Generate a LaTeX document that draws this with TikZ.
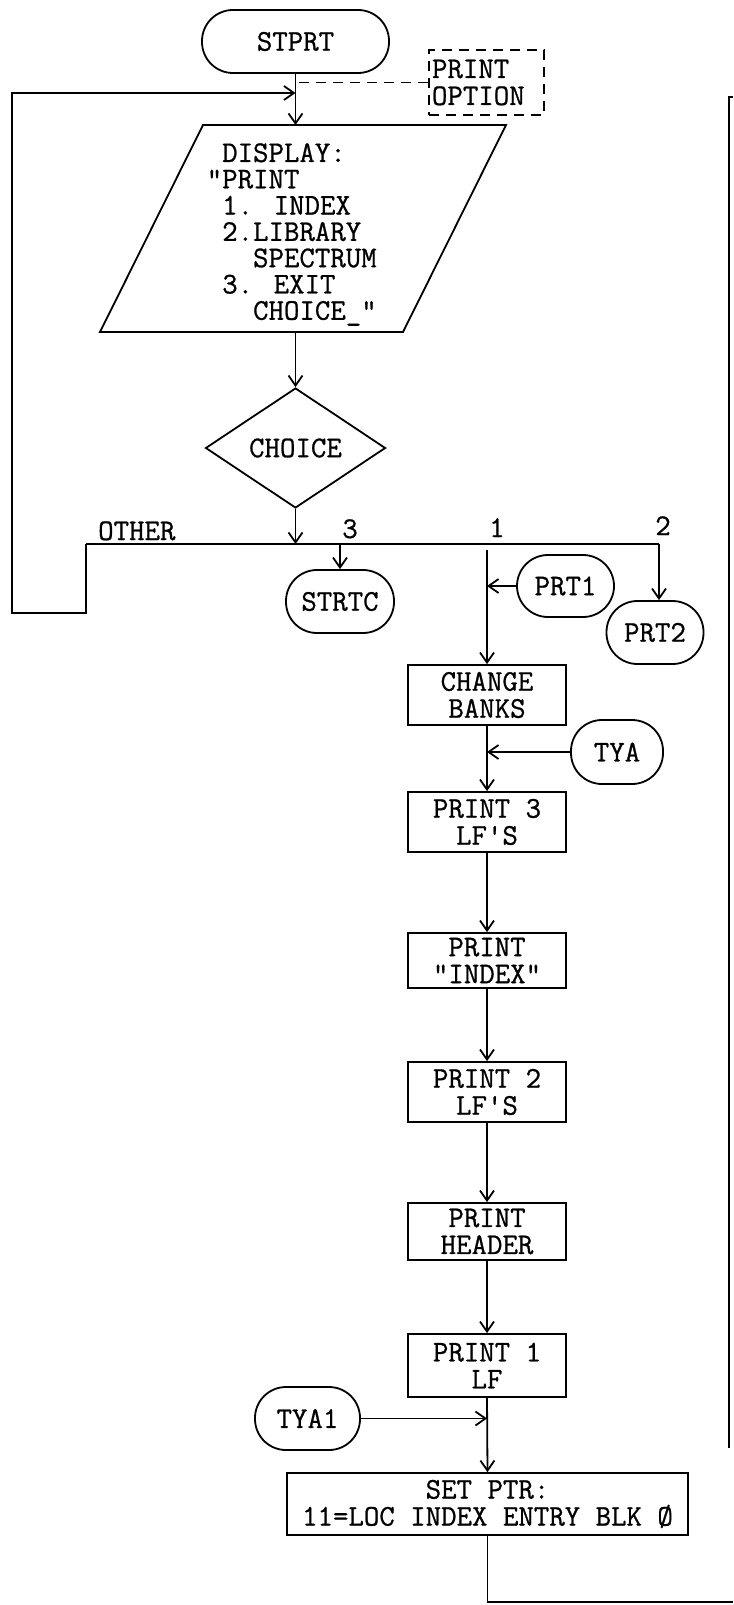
\documentclass[tikz,border=0pt]{standalone}
\usepackage{fontspec}
\newfontfamily\twfont[FakeBold=0.8]{Latin Modern Mono}
\usetikzlibrary{arrows.meta,shapes.geometric}
\tikzset{
  txt/.style={font=\twfont\fontsize{30}{27}\selectfont},
  line/.style={line width=1.8pt},
  box/.style={txt, line, draw, rectangle, minimum width=158pt, inner sep=0pt, align=center},
  term/.style={txt, line, draw, rectangle, rounded corners=31pt, inner sep=0pt, minimum height=63pt},
  flow/.style={line, -{Straight Barb[length=10pt,width=14pt,line width=1.8pt]}},
  dashy/.style={line, dash pattern=on 10pt off 7pt},
  lbl/.style={txt, inner sep=0pt, anchor=base}
}
\begin{document}
\begin{tikzpicture}[x=1pt,y=-1pt]
\useasboundingbox (0,0) rectangle (733,1605);

% top terminal and print option
\node[term, minimum width=187pt] (stprt) at (295.5,41.5) {STPRT};
\node[txt, draw, dashy, text width=109pt, align=left, minimum height=65pt, inner sep=3pt] (popt) at (486.5,82.5) {PRINT\\OPTION};
\draw[dashy] (popt.west) -- (popt.west -| stprt.south);

% display parallelogram
\draw[line] (203,125) -- (506,125) -- (403,332) -- (100,332) -- cycle;
\coordinate (dispTop) at (295.5,125);
\coordinate (dispBot) at (295.5,332);
\node[txt, align=left, anchor=north west, inner sep=0pt, font=\twfont\fontsize{30}{26.3}\selectfont] (disp) at (222,143)
  {DISPLAY:\\\llap{“}PRINT\\1. INDEX\\2.LIBRARY\\\phantom{XX}SPECTRUM\\3. EXIT\\\phantom{XX}CHOICE\_”};
\draw[flow] (stprt.south) -- (dispTop);

% decision
\node[txt, line, draw, diamond, minimum width=180pt, minimum height=120pt, inner sep=0pt] (choice) at (295.5,448) {CHOICE};
\draw[flow] (dispBot) -- (choice.north);

% branch line
\coordinate (bL) at (86,544);
\coordinate (bR) at (659,544);
\draw[line] (bL) -- (bR);
\draw[flow] (choice.south) -- (choice.south |- bL);

% OTHER loop back
\coordinate (lp1) at (86,613);
\coordinate (lp2) at (12,613);
\coordinate (lp3) at (12,93);
\draw[flow] (bL) -- (lp1) -- (lp2) -- (lp3) -- (lp3 -| stprt.south);

% labels on branch line
\node[txt, inner sep=0pt, anchor=base west] (lother) at (98,540) {OTHER};
\node[lbl] (l3) at (350,538) {3};
\node[lbl] (l1) at (497,537) {1};
\node[lbl] (l2) at (663,535) {2};

% branch 3
\node[term, minimum width=108pt] (strtc) at (340,601.5) {STRTC};
\draw[flow] (strtc.north |- bL) -- (strtc.north);

% branch 2
\node[term, minimum width=97pt] (prt2) at (655,632.5) {PRT2};
\draw[flow] (bR) -- (bR |- prt2.north);

% branch 1 column
\coordinate (b1) at (487,550);
\node[box, minimum height=60pt] (change) at (487,695) {CHANGE\\BANKS};
\node[term, minimum width=97pt, minimum height=62pt] (prt1) at (565.5,586) {PRT1};
\draw[flow] (b1) -- (change.north);
\draw[flow] (prt1.west) -- (prt1.west -| b1);

\node[box, minimum height=60pt] (print3) at (487,822) {PRINT 3\\LF'S};
\node[term, minimum width=92pt, minimum height=64pt] (tya) at (617,752) {TYA};
\draw[flow] (change.south) -- (print3.north);
\draw[flow] (tya.west) -- (tya.west -| change.south);

\node[box, minimum height=55pt] (index) at (487,960.5) {PRINT\\"INDEX"};
\draw[flow] (print3.south) -- (index.north);

\node[box, minimum height=60pt] (print2) at (487,1092) {PRINT 2\\LF'S};
\draw[flow] (index.south) -- (print2.north);

\node[box, minimum height=57pt] (header) at (487,1231.5) {PRINT\\HEADER};
\draw[flow] (print2.south) -- (header.north);

\node[box, minimum height=63pt] (print1) at (487,1365.5) {PRINT 1\\LF};
\draw[flow] (header.south) -- (print1.north);

\node[box, minimum width=401pt, minimum height=62pt] (setptr) at (487.5,1504) {SET PTR:\\11=LOC INDEX ENTRY BLK Ø};
\node[term, minimum width=105pt] (tya1) at (307.5,1418.5) {TYA1};
\draw[flow] (print1.south) -- (setptr.north);
\draw[flow] (tya1.east) -- (tya1.east -| print1.south);

% off-page connections
\coordinate (bt2) at (733,1602);
\draw[line] (setptr.south) -- (setptr.south |- bt2) -- (bt2);
\coordinate (r1) at (733,97);
\coordinate (r2) at (729,97);
\coordinate (r3) at (729,1448);
\draw[line] (r1) -- (r2) -- (r3);
\end{tikzpicture}
\end{document}
